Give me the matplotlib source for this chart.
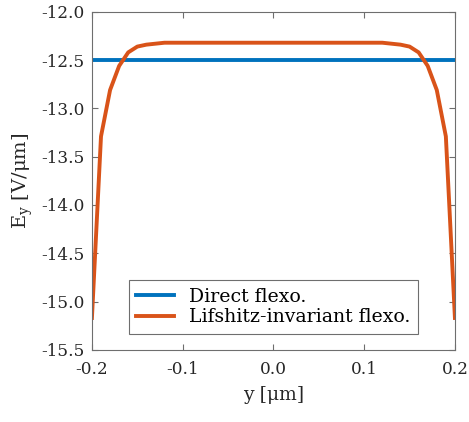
import matplotlib
import numpy as np

matplotlib.use("Agg")
from matplotlib import pyplot as plt

# position across the sample (um)
y_pos = [-0.20, -0.19, -0.18, -0.17, -0.16, -0.15, -0.14, -0.13, -0.12,
         0.12, 0.13, 0.14, 0.15, 0.16, 0.17, 0.18, 0.19, 0.20]
# Lifshitz-invariant flexo field (V/um)
e_lifshitz = [-15.17, -13.29, -12.81, -12.56, -12.42, -12.36, -12.34, -12.33, -12.32,
              -12.32, -12.33, -12.34, -12.36, -12.42, -12.56, -12.81, -13.29, -15.17]
# direct flexo field (V/um)
y_direct = [-0.20, 0.20]
e_direct = [-12.5, -12.5]

y_ticks = [-0.2, -0.1, 0.0, 0.1, 0.2]
e_ticks = [-15.5, -15.0, -14.5, -14.0, -13.5, -13.0, -12.5, -12.0]

plt.rcParams["font.family"] = "DejaVu Serif"
plt.rcParams["mathtext.fontset"] = "dejavuserif"
plt.rcParams["axes.unicode_minus"] = False
plt.rcParams["font.size"] = 12.2

axis_color = "#6e6e6e"
text_color = "#262626"

figure = plt.figure(figsize=(4.69, 4.22), dpi=100)
axis = figure.add_axes([0.196, 0.171, 0.774, 0.801])

axis.plot(y_direct, e_direct, color="#0072BD", linewidth=2.8, label="Direct flexo.")
axis.plot(y_pos, e_lifshitz, color="#D95319", linewidth=2.8,
          label="Lifshitz-invariant flexo.")

axis.set_xlim(-0.2, 0.2)
axis.set_ylim(-15.5, -12.0)
axis.set_xticks(y_ticks)
axis.set_yticks(e_ticks)
axis.xaxis.set_major_formatter(matplotlib.ticker.FormatStrFormatter("%.1f"))
axis.yaxis.set_major_formatter(matplotlib.ticker.FormatStrFormatter("%.1f"))
axis.tick_params(direction="in", top=True, right=True, length=4, width=0.8,
                 color=axis_color, labelcolor=text_color, labelsize=12.2)
axis.tick_params(axis="x", pad=8)
axis.tick_params(axis="y", pad=5)
for spine in axis.spines.values():
    spine.set_color(axis_color)
    spine.set_linewidth(0.8)

axis.set_xlabel("y [μm]", color=text_color, fontsize=13.5, labelpad=6)
axis.set_ylabel(r"E$_\mathregular{y}$ [V/μm]", color=text_color, fontsize=14,
                labelpad=5)

legend = axis.legend(loc="lower center", bbox_to_anchor=(0.5, 0.03), fancybox=False,
                     framealpha=1.0, edgecolor=axis_color, handlelength=2.0,
                     borderpad=0.4, labelspacing=0.15, fontsize=13.6,
                     handletextpad=0.8, borderaxespad=0.3)
legend.get_frame().set_linewidth(0.8)

figure.savefig("out.png")
plt.close(figure)
